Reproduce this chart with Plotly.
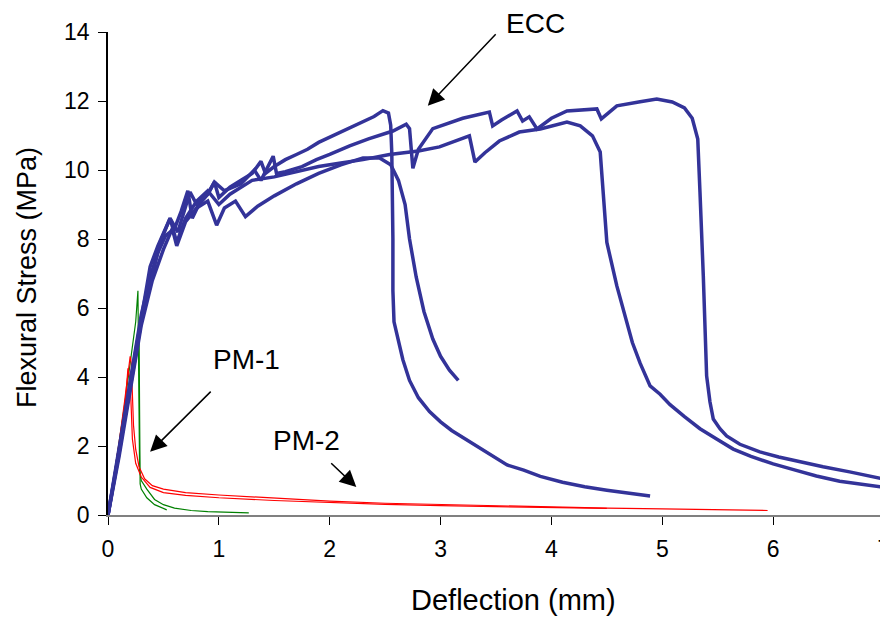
import plotly.graph_objects as go

# ---- data ----
ecc_a_x = [0, 0.1, 0.2, 0.3, 0.38, 0.45, 0.52, 0.6, 0.66, 0.72, 0.76, 0.82, 0.9, 0.96, 1.0, 1.1, 1.2, 1.3, 1.38, 1.42, 1.5, 1.6, 1.7, 1.8, 1.9, 2.0, 2.1, 2.2, 2.3, 2.4, 2.48, 2.53, 2.55, 2.56, 2.57, 2.57, 2.58, 2.62, 2.66, 2.72, 2.8, 2.9, 3.0, 3.1, 3.2, 3.35, 3.5, 3.6, 3.75, 3.9, 4.1, 4.3, 4.5, 4.7, 4.89]
ecc_a_y = [0, 1.9, 3.9, 5.8, 6.9, 7.6, 8.1, 8.3, 8.8, 9.4, 8.6, 9.0, 9.3, 9.65, 9.2, 9.5, 9.7, 9.9, 10.25, 9.9, 10.1, 10.3, 10.45, 10.6, 10.8, 10.95, 11.1, 11.25, 11.4, 11.55, 11.72, 11.65, 11.3, 10.5, 8.0, 6.5, 5.6, 5.0, 4.5, 3.9, 3.4, 3.0, 2.7, 2.45, 2.25, 1.95, 1.65, 1.45, 1.3, 1.12, 0.95, 0.82, 0.72, 0.63, 0.55]

ecc_b_x = [0, 0.1, 0.2, 0.3, 0.4, 0.5, 0.58, 0.62, 0.7, 0.8, 0.9, 0.98, 1.05, 1.15, 1.24, 1.35, 1.5, 1.7, 1.9, 2.1, 2.3, 2.45, 2.55, 2.62, 2.68, 2.72, 2.78, 2.85, 2.93, 3.0, 3.08, 3.16]
ecc_b_y = [0, 1.7, 3.6, 5.5, 6.8, 7.7, 8.3, 7.8, 8.5, 8.9, 9.1, 8.4, 8.9, 9.1, 8.65, 8.95, 9.25, 9.6, 9.9, 10.15, 10.35, 10.35, 10.15, 9.7, 9.0, 8.0, 6.9, 5.9, 5.1, 4.6, 4.2, 3.9]

ecc_c_x = [0, 0.1, 0.2, 0.3, 0.4, 0.47, 0.56, 0.62, 0.7, 0.8, 0.9, 1.0, 1.1, 1.2, 1.3, 1.5, 1.7, 1.9, 2.1, 2.3, 2.54, 2.8, 2.99, 3.15, 3.26, 3.31, 3.4, 3.53, 3.71, 3.9, 4.14, 4.26, 4.37, 4.44, 4.46, 4.48, 4.5, 4.59, 4.66, 4.73, 4.8, 4.89, 4.98, 5.07, 5.2, 5.34, 5.49, 5.64, 5.8, 6.0, 6.2, 6.39, 6.6, 6.8, 7.0]
ecc_c_y = [0, 1.8, 3.7, 5.6, 7.0, 7.9, 8.6, 7.9, 8.6, 9.1, 9.4, 9.0, 9.3, 9.5, 9.7, 9.8, 9.95, 10.1, 10.2, 10.3, 10.45, 10.55, 10.67, 10.85, 10.99, 10.23, 10.5, 10.84, 11.1, 11.19, 11.39, 11.28, 10.99, 10.52, 9.54, 8.5, 7.9, 6.64, 5.8, 5.0, 4.4, 3.74, 3.5, 3.2, 2.85, 2.5, 2.2, 1.91, 1.7, 1.48, 1.3, 1.13, 0.98, 0.88, 0.8]

ecc_d_x = [0, 0.1, 0.2, 0.3, 0.38, 0.45, 0.52, 0.56, 0.63, 0.7, 0.74, 0.8, 0.9, 0.96, 1.05, 1.2, 1.32, 1.38, 1.49, 1.52, 1.6, 1.75, 1.88, 2.0, 2.18, 2.35, 2.57, 2.69, 2.72, 2.75, 2.8, 2.93, 3.2, 3.44, 3.47, 3.55, 3.69, 3.74, 3.8, 3.87, 4.0, 4.14, 4.41, 4.45, 4.59, 4.8, 4.95, 5.09, 5.2, 5.27, 5.32, 5.34, 5.36, 5.37, 5.39, 5.4, 5.43, 5.46, 5.52, 5.58, 5.7, 5.88, 6.05, 6.24, 6.45, 6.69, 6.85, 7.0]
ecc_d_y = [0, 1.8, 3.8, 5.7, 7.2, 7.8, 8.3, 8.6, 8.2, 8.9, 9.36, 9.0, 9.3, 9.65, 9.4, 9.6, 10.0, 9.7, 10.4, 9.9, 9.95, 10.1, 10.3, 10.45, 10.7, 10.9, 11.13, 11.33, 11.2, 10.05, 10.6, 11.2, 11.5, 11.68, 11.28, 11.45, 11.71, 11.42, 11.54, 11.19, 11.5, 11.71, 11.77, 11.48, 11.86, 11.98, 12.06, 11.97, 11.8, 11.5, 10.9, 9.36, 8.0, 6.93, 5.0, 4.03, 3.28, 2.78, 2.5, 2.29, 2.05, 1.83, 1.68, 1.54, 1.4, 1.25, 1.13, 1.04]

pm1_a_x = [0, 0.05, 0.1, 0.15, 0.2, 0.25, 0.27, 0.275, 0.28, 0.285, 0.3, 0.35, 0.42, 0.5, 0.6, 0.75, 0.9, 1.05, 1.27]
pm1_a_y = [0, 1.0, 2.1, 3.2, 4.4, 5.6, 6.5, 5.0, 2.5, 1.3, 1.0, 0.75, 0.45, 0.3, 0.2, 0.13, 0.1, 0.08, 0.06]
pm1_b_x = [0, 0.05, 0.1, 0.15, 0.2, 0.25, 0.28, 0.285, 0.29, 0.3, 0.35, 0.42, 0.5, 0.53]
pm1_b_y = [0, 0.9, 1.9, 2.9, 3.9, 4.9, 5.4, 3.0, 0.9, 0.75, 0.5, 0.3, 0.18, 0.15]

pm2_a_x = [0, 0.05, 0.1, 0.15, 0.2, 0.21, 0.22, 0.23, 0.25, 0.28, 0.33, 0.4, 0.5, 0.7, 1.0, 1.5, 2.0, 2.5, 3.0, 3.5, 4.0, 4.5, 5.0, 5.5, 5.95]
pm2_a_y = [0, 1.0, 2.1, 3.3, 4.6, 4.4, 3.7, 2.6, 1.9, 1.4, 1.05, 0.85, 0.75, 0.65, 0.58, 0.48, 0.4, 0.34, 0.3, 0.26, 0.22, 0.2, 0.18, 0.16, 0.13]
pm2_b_x = [0, 0.05, 0.1, 0.15, 0.18, 0.2, 0.21, 0.22, 0.25, 0.3, 0.38, 0.5, 0.7, 1.0, 1.5, 2.0, 2.5, 3.0, 3.5, 4.0, 4.5]
pm2_b_y = [0, 0.9, 1.9, 3.0, 4.25, 3.9, 3.0, 2.2, 1.5, 1.1, 0.8, 0.65, 0.57, 0.5, 0.42, 0.36, 0.31, 0.27, 0.24, 0.21, 0.19]

x_ticks = [0, 1, 2, 3, 4, 5, 6, 7]
y_ticks = [0, 2, 4, 6, 8, 10, 12, 14]

BLUE = "#333399"
RED = "#FF0000"
GREEN = "#008000"
FONT = "Liberation Sans, Arial, sans-serif"

fig = go.Figure()
for xs, ys in [(pm1_a_x, pm1_a_y), (pm1_b_x, pm1_b_y)]:
    fig.add_trace(go.Scatter(x=xs, y=ys, mode="lines", line=dict(color=GREEN, width=1.2), showlegend=False))
for xs, ys in [(pm2_a_x, pm2_a_y), (pm2_b_x, pm2_b_y)]:
    fig.add_trace(go.Scatter(x=xs, y=ys, mode="lines", line=dict(color=RED, width=1.2), showlegend=False))
for xs, ys in [(ecc_a_x, ecc_a_y), (ecc_b_x, ecc_b_y), (ecc_c_x, ecc_c_y), (ecc_d_x, ecc_d_y)]:
    fig.add_trace(go.Scatter(x=xs, y=ys, mode="lines", line=dict(color=BLUE, width=3.5), showlegend=False))

# arrows (tip at x,y; tail at ax,ay)
arrows = [
    dict(x=2.885, y=11.86, ax=3.51, ay=13.98),
    dict(x=0.38, y=1.83, ax=0.94, ay=3.62),
    dict(x=2.24, y=0.81, ax=2.0, ay=1.54),
]
for a in arrows:
    fig.add_annotation(x=a["x"], y=a["y"], ax=a["ax"], ay=a["ay"], xref="x", yref="y",
                       axref="x", ayref="y", text="", showarrow=True, arrowhead=2,
                       arrowsize=2.2, arrowwidth=1.5, arrowcolor="black")
# text labels (paper coordinates so the top one is not hidden outside the axis range)
labels = [("ECC", 0.5515, 1.0166), ("PM-1", 0.178, 0.321), ("PM-2", 0.2564, 0.155)]
for t, x, y in labels:
    fig.add_annotation(x=x, y=y, xref="paper", yref="paper", text=t, showarrow=False,
                       xanchor="center", yanchor="middle",
                       font=dict(family=FONT, size=28, color="black"))
# axis titles
fig.add_annotation(x=0.522, y=-0.176, xref="paper", yref="paper", text="Deflection (mm)",
                   xanchor="center", yanchor="middle",
                   showarrow=False, font=dict(family=FONT, size=29, color="black"))
fig.add_annotation(x=-0.1044, y=0.4928, xref="paper", yref="paper", text="Flexural Stress (MPa)",
                   xanchor="center", yanchor="middle",
                   textangle=-90, showarrow=False, font=dict(family=FONT, size=27, color="black"))

# page body adds an 8px offset, so the figure is 8px smaller and margins shifted
fig.update_layout(
    width=880, height=609,
    margin=dict(l=100, r=4, t=24, b=102),
    paper_bgcolor="white", plot_bgcolor="white",
    font=dict(family=FONT, color="black"),
)
fig.update_xaxes(range=[0, 7], tickvals=x_ticks, ticktext=[str(v) for v in x_ticks],
                 showgrid=False, zeroline=False, showline=True, linecolor="#808080", linewidth=1.5,
                 ticks="outside", ticklen=8, tickcolor="black", tickfont=dict(size=23),
                 ticklabelstandoff=5, ticklabeloverflow="allow", automargin=False)
fig.update_yaxes(range=[0, 14], tickvals=y_ticks, ticktext=[str(v) for v in y_ticks],
                 showgrid=False, zeroline=False, showline=True, linecolor="black", linewidth=1.5,
                 ticks="outside", ticklen=8, tickcolor="black", tickfont=dict(size=23),
                 ticklabelstandoff=4, ticklabeloverflow="allow", automargin=False)

fig.write_html("out.html")
